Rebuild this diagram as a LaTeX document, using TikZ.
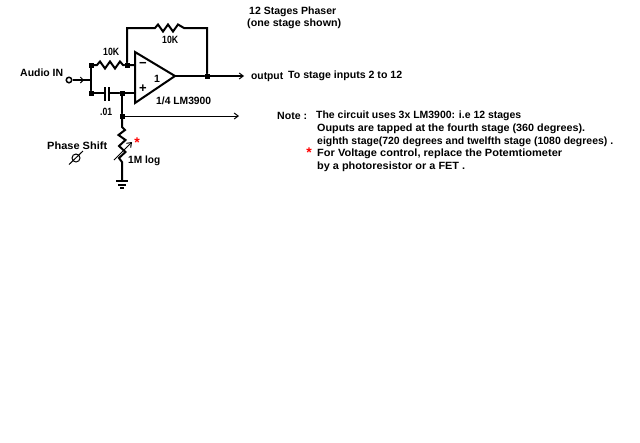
\documentclass[tikz,border=0pt]{standalone}
\usepackage{fontspec}
\usepackage{graphicx}
\setmainfont{Liberation Sans}
\usetikzlibrary{arrows.meta}
\tikzset{
  wire/.style={line width=2pt,line cap=round,line join=miter},
  thin wire/.style={line width=1pt},
  tip/.style={-{Straight Barb[length=4pt,width=6pt,line width=1pt]}},
  dot/.style={fill=black,draw=none,minimum size=5pt,inner sep=0pt,rectangle},
  lab/.style={anchor=west,inner sep=0pt,yshift=-0.8pt,font=\bfseries\fontsize{10.5}{10.5}\selectfont,text=black},
  redstar/.style={inner sep=0pt,text=red,font=\bfseries\fontsize{14}{14}\selectfont}
}
\newcommand{\fitw}[2]{\resizebox{#1pt}{\height}{#2}}
\begin{document}
\begin{tikzpicture}[x=1pt,y=-1pt]
\useasboundingbox (0,0) rectangle (640,442);
\fill[white] (0,0) rectangle (640,442);
% coordinates
\coordinate (oa1) at (135,52);
\coordinate (oa2) at (135,103);
\coordinate (oat) at (175,76);
\coordinate (inm) at (135,65);
\coordinate (inp) at (135,93);
\node[circle,draw,line width=1.5pt,fill=white,minimum size=5.5pt,inner sep=0pt] (term) at (69,80) {};
\coordinate (split) at (91,80);
\node[dot] (jr) at (91,65) {};
\node[dot] (jc) at (91,93) {};
\node[dot] (jm) at (127,65) {};
\node[dot] (jp) at (122,93) {};
\node[dot] (jt) at (122,116) {};
\node[dot] (jo) at (207,76) {};
\coordinate (outend) at (244,76);
\coordinate (tapend) at (239,116);
\coordinate (gnd) at (122,181);
% op amp
\draw[wire,line width=2pt,line join=miter] (oa1) -- (oat) -- (oa2) -- cycle;
% input
\draw[line width=1.5pt] (term) -- (split);
\draw[line width=1pt,-{Straight Barb[length=3pt,width=6pt]}] (76,80) -- (84,80);
\draw[wire] (jr) -- (jc);
\draw[wire] (jr) -- (97,65) -- (100,61.5) -- (105,68.5) -- (110,61.5) -- (115,68.5) -- (120,61.5) -- (123,65) -- (jm) -- (inm);
% feedback
\draw[wire] (jm) -- (127,28) -- (155,28) -- (158,24.5) -- (163,31.5) -- (168,24.5) -- (173,31.5) -- (178,24.5) -- (184,28) -- (207,28) -- (jo);
% output
\draw[wire] (oat) -- (jo);
\draw[line width=1.5pt,tip] (jo) -- (outend);
% cap
\draw[wire] (jc) -- (105,93);
\draw[wire] (109,93) -- (jp) -- (inp);
\draw[line width=1.6pt,line cap=butt] (105,87) -- (105,101);
\draw[line width=1.6pt,line cap=butt] (109,87) -- (109,101);
% pot line
\draw[wire] (jp) -- (jt);
\draw[thin wire,tip] (jt) -- (tapend);
\draw[wire] (jt) -- (122,127) -- (125,130) -- (118.5,135) -- (125.5,140) -- (119,146) -- (125.5,152) -- (119,158) -- (122,162) -- (gnd);
\draw[thin wire,-{Straight Barb[length=4pt,width=6pt]}] (114,160) -- (132,142);
% ground
\draw[wire,line cap=butt] (116,181) -- (128,181);
\draw[wire,line cap=butt] (118,184.5) -- (126,184.5);
\draw[wire,line cap=butt] (120,188) -- (124,188);
% pot symbol
\node[circle,draw,line width=1pt,minimum size=8pt,inner sep=0pt] (knob) at (76,158) {};
\draw[line width=1pt] (69,164.5) -- (83,151);
% labels
\node[lab] (tAudio) at (20,72) {\fitw{43}{Audio IN}};
\node[lab] (tR1) at (103,51) {\fitw{16}{10K}};
\node[lab] (tR2) at (162,39.5) {\fitw{16}{10K}};
\node[lab] (tOne) at (154,78) {1};
\node[inner sep=0pt,font=\bfseries\fontsize{13}{13}\selectfont] (tMinus) at (143,65) {\textminus};
\node[inner sep=0pt,font=\bfseries\fontsize{13}{13}\selectfont] (tPlus) at (143,89) {+};
\node[lab] (tLM) at (156,100) {\fitw{55}{1/4 LM3900}};
\node[lab] (tCap) at (100,111) {\fitw{12}{.01}};
\node[lab] (tPS) at (47,145) {\fitw{60}{Phase Shift}};
\node[lab] (tOneM) at (128,160) {\fitw{32}{1M log}};
\node[redstar] (tStarA) at (137,142.5) {*};
\node[lab] (tT1) at (249,11) {\fitw{87}{12 Stages Phaser}};
\node[lab] (tT2) at (247,23) {\fitw{94}{(one stage shown)}};
\node[lab] (tOut) at (251,76) {\fitw{32}{output}};
\node[lab] (tTo) at (288,75) {\fitw{114}{To stage inputs 2 to 12}};
\node[lab] (tNote) at (277,115) {\fitw{30}{Note :}};
\node[lab] (tN1) at (316,115) {\fitw{205}{The circuit uses 3x LM3900: i.e 12 stages}};
\node[lab] (tN2) at (317,128) {\fitw{268}{Ouputs are tapped at the fourth stage (360 degrees).}};
\node[lab] (tN3) at (317,141) {\fitw{296}{eighth stage(720 degrees and twelfth stage (1080 degrees) .}};
\node[lab] (tN4) at (317,153) {\fitw{245}{For Voltage control, replace the Potemtiometer}};
\node[lab] (tN5) at (317,166) {\fitw{148}{by a photoresistor or a FET .}};
\node[redstar] (tStarB) at (309,152.5) {*};
\end{tikzpicture}
\end{document}
